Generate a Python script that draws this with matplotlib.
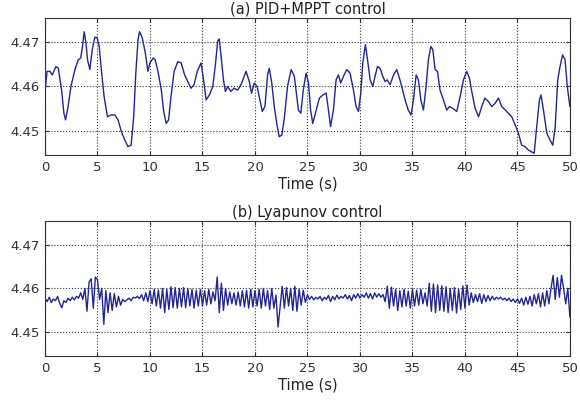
import numpy as np
import matplotlib.pyplot as plt

# (a) PID+MPPT control: time (s) and value
t_a = [0, 0.2, 0.47, 0.7, 1.04, 1.27, 1.58, 1.8, 1.96, 2.2, 2.47, 2.85, 3.16, 3.4,
       3.57, 3.73, 3.9, 4.05, 4.27, 4.5, 4.75, 4.97, 5.16, 5.4, 5.63, 5.95, 6.27,
       6.65, 6.96, 7.28, 7.6, 7.9, 8.2, 8.45, 8.64, 8.86, 9.0, 9.27, 9.56, 9.8,
       10.0, 10.3, 10.5, 10.76, 11.08, 11.3, 11.55, 11.77, 12.0, 12.3, 12.65, 12.97,
       13.3, 13.6, 13.9, 14.2, 14.5, 14.87, 15.1, 15.35, 15.66, 15.98, 16.23, 16.45,
       16.6, 16.77, 17.0, 17.18, 17.4, 17.7, 18.0, 18.35, 18.67, 19.15, 19.46, 19.68,
       19.94, 20.2, 20.47, 20.7, 20.95, 21.2, 21.36, 21.6, 21.84, 22.05, 22.3, 22.56,
       22.78, 23.1, 23.45, 23.75, 24.14, 24.37, 24.6, 24.87, 25.1, 25.3, 25.5, 25.8,
       26.14, 26.46, 26.78, 27.0, 27.2, 27.47, 27.73, 27.95, 28.17, 28.43, 28.75,
       29.06, 29.38, 29.63, 29.86, 30.08, 30.27, 30.52, 30.7, 30.97, 31.22, 31.44,
       31.67, 31.92, 32.17, 32.4, 32.6, 32.87, 33.2, 33.5, 33.76, 33.98, 34.3, 34.6,
       34.87, 35.1, 35.35, 35.57, 35.8, 36.05, 36.3, 36.52, 36.75, 36.94, 37.16,
       37.38, 37.63, 37.95, 38.27, 38.52, 38.84, 39.22, 39.54, 39.86, 40.17, 40.43,
       40.65, 40.97, 41.3, 41.6, 41.9, 42.24, 42.56, 42.87, 43.2, 43.5, 43.98, 44.46,
       44.78, 45.1, 45.4, 45.73, 46.05, 46.37, 46.6, 46.84, 47.1, 47.25, 47.48, 47.8,
       48.1, 48.37, 48.6, 48.84, 49.06, 49.3, 49.54, 49.75, 50.0]
v_a = [4.4592, 4.4634, 4.4634, 4.4626, 4.4645, 4.4641, 4.4592, 4.4540, 4.4525, 4.4555,
       4.4600, 4.4638, 4.4660, 4.4664, 4.4690, 4.4723, 4.4698, 4.4660, 4.4638, 4.4683,
       4.4711, 4.4709, 4.4690, 4.4630, 4.4577, 4.4532, 4.4536, 4.4536, 4.4525, 4.4498,
       4.4480, 4.4465, 4.4468, 4.4532, 4.4626, 4.4705, 4.4723, 4.4709, 4.4675, 4.4634,
       4.4653, 4.4664, 4.4660, 4.4634, 4.4592, 4.4544, 4.4517, 4.4525, 4.4577, 4.4634,
       4.4656, 4.4653, 4.4626, 4.4611, 4.4596, 4.4604, 4.4634, 4.4653, 4.4615, 4.4570,
       4.4581, 4.4600, 4.4649, 4.4702, 4.4707, 4.4668, 4.4615, 4.4589, 4.4600, 4.4589,
       4.4596, 4.4592, 4.4604, 4.4634, 4.4611, 4.4585, 4.4608, 4.4600, 4.4570, 4.4544,
       4.4555, 4.4626, 4.4641, 4.4608, 4.4555, 4.4521, 4.4487, 4.4491, 4.4525, 4.4600,
       4.4638, 4.4623, 4.4547, 4.4540, 4.4592, 4.4630, 4.4608, 4.4547, 4.4517, 4.4544,
       4.4574, 4.4581, 4.4585, 4.4547, 4.4510, 4.4547, 4.4615, 4.4626, 4.4608, 4.4623,
       4.4638, 4.4630, 4.4592, 4.4555, 4.4544, 4.4585, 4.4653, 4.4694, 4.4664, 4.4615,
       4.4600, 4.4623, 4.4645, 4.4641, 4.4623, 4.4611, 4.4615, 4.4604, 4.4626, 4.4638,
       4.4619, 4.4600, 4.4570, 4.4547, 4.4536, 4.4570, 4.4626, 4.4615, 4.4570, 4.4547,
       4.4600, 4.4660, 4.4690, 4.4683, 4.4638, 4.4634, 4.4592, 4.4570, 4.4547, 4.4555,
       4.4551, 4.4544, 4.4577, 4.4615, 4.4634, 4.4619, 4.4589, 4.4551, 4.4532, 4.4555,
       4.4574, 4.4566, 4.4555, 4.4562, 4.4574, 4.4555, 4.4544, 4.4532, 4.4514, 4.4495,
       4.4468, 4.4465, 4.4457, 4.4453, 4.4450, 4.4510, 4.4570, 4.4581, 4.4547, 4.4495,
       4.4480, 4.4468, 4.4510, 4.4615, 4.4645, 4.4671, 4.4660, 4.4600, 4.4555]

# (b) Lyapunov control: one value every 0.2 s from 0 to 50 s
v_b = [4.4578, 4.4570, 4.4580, 4.4568, 4.4576, 4.4572, 4.4582, 4.4566, 4.4556, 4.4572,
       4.4568, 4.4578, 4.4572, 4.4580, 4.4574, 4.4582, 4.4578, 4.4590, 4.4575, 4.4600,
       4.4548, 4.4615, 4.4622, 4.4555, 4.4626,
       4.4620, 4.4575, 4.4600, 4.4518, 4.4595, 4.4545, 4.4590, 4.4550, 4.4588, 4.4558,
       4.4582, 4.4562, 4.4575, 4.4570, 4.4574, 4.4578, 4.4572, 4.4580, 4.4578, 4.4582,
       4.4577, 4.4586, 4.4572, 4.4590, 4.4570,
       4.4595, 4.4565, 4.4598, 4.4560, 4.4596, 4.4555, 4.4600, 4.4545, 4.4598, 4.4552,
       4.4604, 4.4556, 4.4602, 4.4555, 4.4600, 4.4558, 4.4602, 4.4556, 4.4600, 4.4560,
       4.4598, 4.4555, 4.4596, 4.4560, 4.4598,
       4.4560, 4.4595, 4.4562, 4.4598, 4.4565, 4.4592, 4.4572, 4.4626, 4.4545, 4.4612,
       4.4550, 4.4600, 4.4562, 4.4592, 4.4565, 4.4590, 4.4562, 4.4592, 4.4560, 4.4595,
       4.4558, 4.4596, 4.4555, 4.4598, 4.4558,
       4.4595, 4.4560, 4.4598, 4.4555, 4.4600, 4.4560, 4.4595, 4.4552, 4.4600, 4.4555,
       4.4585, 4.4512, 4.4560, 4.4605, 4.4555, 4.4602, 4.4560, 4.4600, 4.4550, 4.4605,
       4.4548, 4.4598, 4.4562, 4.4596, 4.4568,
       4.4585, 4.4575, 4.4582, 4.4574, 4.4580, 4.4576, 4.4582, 4.4572, 4.4580, 4.4575,
       4.4584, 4.4570, 4.4582, 4.4574, 4.4585, 4.4576, 4.4582, 4.4578, 4.4586, 4.4576,
       4.4584, 4.4572, 4.4586, 4.4578, 4.4588,
       4.4578, 4.4586, 4.4580, 4.4590, 4.4578, 4.4588, 4.4576, 4.4590, 4.4580, 4.4588,
       4.4580, 4.4586, 4.4570, 4.4605, 4.4555, 4.4603, 4.4560, 4.4598, 4.4550, 4.4595,
       4.4558, 4.4598, 4.4560, 4.4594, 4.4555,
       4.4598, 4.4560, 4.4596, 4.4562, 4.4598, 4.4565, 4.4590, 4.4560, 4.4612, 4.4548,
       4.4610, 4.4545, 4.4608, 4.4550, 4.4606, 4.4548, 4.4604, 4.4545, 4.4600, 4.4550,
       4.4602, 4.4544, 4.4598, 4.4552, 4.4606,
       4.4555, 4.4608, 4.4562, 4.4590, 4.4568, 4.4586, 4.4570, 4.4588, 4.4566, 4.4586,
       4.4570, 4.4584, 4.4572, 4.4582, 4.4574, 4.4580, 4.4576, 4.4580, 4.4574, 4.4578,
       4.4572, 4.4578, 4.4570, 4.4576, 4.4568,
       4.4576, 4.4566, 4.4578, 4.4562, 4.4580, 4.4564, 4.4582, 4.4560, 4.4586, 4.4565,
       4.4588, 4.4558, 4.4590, 4.4560, 4.4595, 4.4565, 4.4600, 4.4630, 4.4575, 4.4625,
       4.4580, 4.4630, 4.4600, 4.4565, 4.4600,
       4.4535]
t_b = np.arange(len(v_b)) * 0.2

titles = ["(a) PID+MPPT control", "(b) Lyapunov control"]
xticks = [0, 5, 10, 15, 20, 25, 30, 35, 40, 45, 50]
yticks = [4.45, 4.46, 4.47]

plt.rcParams['font.family'] = ['DejaVu Sans']

fig = plt.figure(figsize=(5.8, 4.08), dpi=100)
ax_a = fig.add_axes([0.0776, 0.620, 0.905, 0.336])
ax_b = fig.add_axes([0.0776, 0.1275, 0.905, 0.331])

for ax, t, v, title in [(ax_a, t_a, v_a, titles[0]), (ax_b, t_b, v_b, titles[1])]:
    ax.plot(t, v, color='#25258f', lw=1.0)
    ax.set_xlim(0, 50)
    ax.set_ylim(4.4446, 4.4754)
    ax.set_xticks(xticks)
    ax.set_yticks(yticks)
    ax.set_yticklabels([f"{y:.2f}" for y in yticks])
    ax.grid(True, color='black', linestyle=':', linewidth=0.8, alpha=0.8)
    ax.tick_params(direction='in', length=3, labelsize=9.5, top=True, right=True,
                   colors='#333333', pad=4)
    for s in ax.spines.values():
        s.set_linewidth(0.8)
        s.set_color('#333333')
    ax.set_title(title, fontsize=10.5, pad=3, color='#222222')
    ax.set_xlabel("Time (s)", fontsize=10.5, labelpad=2, color='#222222')

fig.savefig("out.png", dpi=100)
